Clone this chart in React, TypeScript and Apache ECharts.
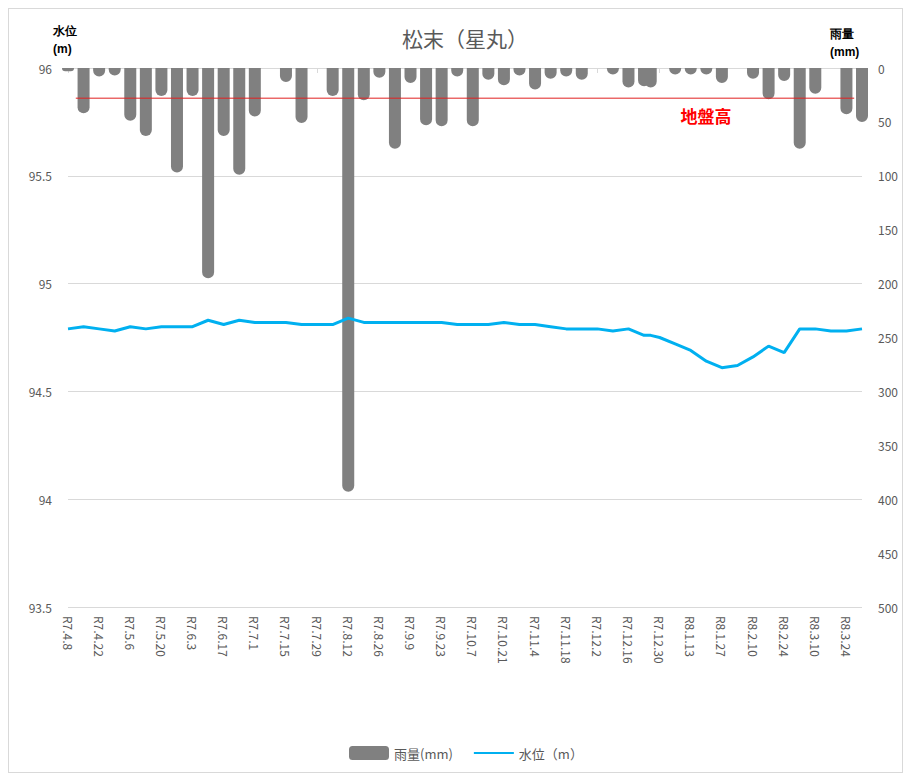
import React, { useEffect, useRef } from 'react';
import * as echarts from 'echarts';

// Observation dates (weekly, plus one extra year-end reading)
const dates = [
  '2025-04-08', '2025-04-15', '2025-04-22', '2025-04-29', '2025-05-06', '2025-05-13', '2025-05-20', '2025-05-27',
  '2025-06-03', '2025-06-10', '2025-06-17', '2025-06-24', '2025-07-01', '2025-07-08', '2025-07-15', '2025-07-22',
  '2025-07-29', '2025-08-05', '2025-08-12', '2025-08-19', '2025-08-26', '2025-09-02', '2025-09-09', '2025-09-16',
  '2025-09-23', '2025-09-30', '2025-10-07', '2025-10-14', '2025-10-21', '2025-10-28', '2025-11-04', '2025-11-11',
  '2025-11-18', '2025-11-25', '2025-12-02', '2025-12-09', '2025-12-16', '2025-12-23', '2025-12-26', '2025-12-30',
  '2026-01-06', '2026-01-13', '2026-01-20', '2026-01-27', '2026-02-03', '2026-02-10', '2026-02-17', '2026-02-24',
  '2026-03-03', '2026-03-10', '2026-03-17', '2026-03-24', '2026-03-31',
];

// 雨量 (mm)
const rainfall = [
  3, 42, 8, 7, 49, 63, 26, 97,
  26, 195, 63, 99, 45, 0, 13, 51,
  0, 26, 393, 30, 9, 75, 14, 53,
  54, 8, 54, 11, 16, 7, 20, 10,
  8, 11, 0, 6, 18, 17, 18, 0,
  6, 6, 6, 14, 0, 10, 29, 12,
  75, 24, 0, 43, 50,
];

// 水位 (m)
const waterLevel = [
  94.79, 94.80, 94.79, 94.78, 94.80, 94.79, 94.80, 94.80,
  94.80, 94.83, 94.81, 94.83, 94.82, 94.82, 94.82, 94.81,
  94.81, 94.81, 94.84, 94.82, 94.82, 94.82, 94.82, 94.82,
  94.82, 94.81, 94.81, 94.81, 94.82, 94.81, 94.81, 94.80,
  94.79, 94.79, 94.79, 94.78, 94.79, 94.76, 94.76, 94.75,
  94.72, 94.69, 94.64, 94.61, 94.62, 94.66, 94.71, 94.68,
  94.79, 94.79, 94.78, 94.78, 94.79,
];

// 地盤高 (m) and the day span it is drawn over
const GROUND_LEVEL = 95.86;
const groundSpanDays = [3.5, 353.5];

const START = Date.parse('2025-04-08');
const DAY = 86400000;
const AXIS_MAX_DAY = 357;
const LABEL_STEP = 14;
const dayOf = (d: string) => (Date.parse(d) - START) / DAY;
const labelDays: number[] = [];
for (let v = 0; v <= AXIS_MAX_DAY - 7; v += LABEL_STEP) labelDays.push(v);

const toReiwa = (v: number) => {
  const d = new Date(START + v * DAY);
  return `R${d.getUTCFullYear() - 2018}.${d.getUTCMonth() + 1}.${d.getUTCDate()}`;
};

const FONT = '"Noto Sans CJK JP", "Noto Sans", sans-serif';

export default function App() {
  const ref = useRef<HTMLDivElement>(null);

  useEffect(() => {
    if (!ref.current) return;
    const chart = echarts.init(ref.current, undefined, { renderer: 'svg' });
    const x = dates.map(dayOf);
    chart.setOption({
      animation: false,
      textStyle: { fontFamily: FONT },
      title: {
        text: '松末（星丸）',
        left: 451,
        textAlign: 'center',
        top: 13,
        textStyle: { fontSize: 21, fontWeight: 'normal', color: '#595959', fontFamily: FONT },
      },
      grid: { left: 59, right: 40, top: 59, bottom: 165, containLabel: false },
      legend: {
        data: [
          { name: '雨量(mm)', icon: 'roundRect' },
          { name: '水位（m）', itemStyle: { opacity: 0 } },
        ],
        left: 335,
        top: 732,
        itemWidth: 40,
        itemHeight: 14,
        itemGap: 20,
        textStyle: { fontSize: 13, color: '#595959', fontFamily: FONT },
      },
      xAxis: {
        type: 'value',
        min: 0,
        max: AXIS_MAX_DAY,
        interval: LABEL_STEP,
        axisLine: { show: true, lineStyle: { color: '#d9d9d9' } },
        axisTick: { show: true, length: 5, lineStyle: { color: '#d9d9d9' }, customValues: labelDays },
        axisLabel: {
          rotate: -90,
          margin: 9,
          fontSize: 12,
          color: '#595959',
          customValues: labelDays,
          formatter: (v: number) => toReiwa(v),
        },
        splitLine: { show: false },
      },
      yAxis: [
        {
          type: 'value',
          min: 93.5,
          max: 96,
          interval: 0.5,
          position: 'left',
          axisLine: { show: false },
          axisTick: { show: false },
          axisLabel: { margin: 16, fontSize: 12, color: '#595959' },
          splitLine: { show: true, lineStyle: { color: '#d9d9d9', width: 1 } },
        },
        {
          type: 'value',
          min: 0,
          max: 500,
          interval: 50,
          inverse: true,
          position: 'right',
          axisLine: { show: false },
          axisTick: { show: false },
          axisLabel: { margin: 16, fontSize: 12, color: '#595959' },
          splitLine: { show: false },
        },
      ],
      series: [
        {
          name: '雨量(mm)',
          type: 'bar',
          yAxisIndex: 1,
          barWidth: 12,
          data: x.map((d, i) => [d, rainfall[i]]),
          itemStyle: { color: '#808080', borderRadius: [0, 0, 6, 6] },
          z: 2,
        },
        {
          name: '地盤高',
          type: 'line',
          yAxisIndex: 0,
          data: groundSpanDays.map((d) => [d, GROUND_LEVEL]),
          symbol: 'none',
          silent: true,
          lineStyle: { color: '#e02020', width: 1 },
          z: 3,
        },
        {
          name: '水位（m）',
          type: 'line',
          yAxisIndex: 0,
          data: x.map((d, i) => [d, waterLevel[i]]),
          symbol: 'none',
          showSymbol: false,
          itemStyle: { color: '#00b0f0' },
          lineStyle: { color: '#00b0f0', width: 3 },
          z: 4,
        },
      ],
      graphic: [
        {
          type: 'text',
          left: 44,
          top: 13,
          style: { text: '水位\n(m)', fontSize: 12, lineHeight: 18, fontWeight: 'bold', fill: '#000000', font: `bold 12px ${FONT}` },
        },
        {
          type: 'text',
          left: 821,
          top: 16,
          style: { text: '雨量\n(mm)', fontSize: 12, lineHeight: 18, fontWeight: 'bold', fill: '#000000', font: `bold 12px ${FONT}` },
        },
        {
          type: 'text',
          x: 697,
          y: 106,
          style: { text: '地盤高', fill: '#ff0000', font: `bold 17px ${FONT}`, textAlign: 'center', textVerticalAlign: 'middle' },
        },
      ],
    });
    return () => chart.dispose();
  }, []);

  return (
    <div style={{ width: 895, height: 765, border: '1px solid #d9d9d9', boxSizing: 'border-box', background: '#fff' }}>
      <div ref={ref} style={{ width: 893, height: 763 }} />
    </div>
  );
}
